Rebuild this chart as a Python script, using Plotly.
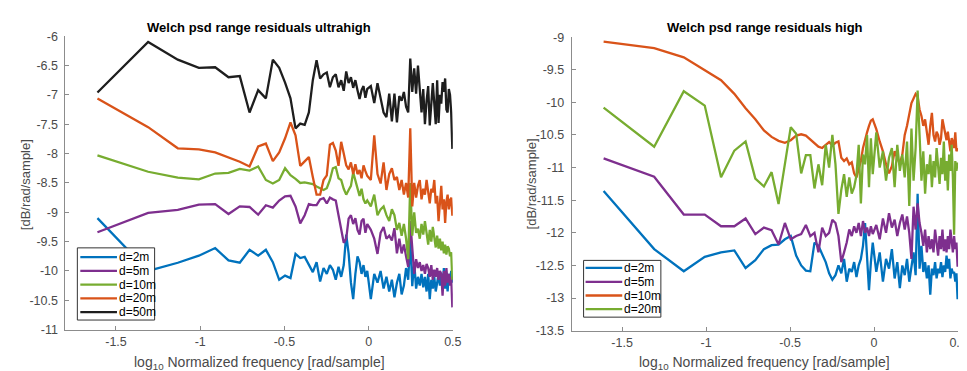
import numpy as np
import plotly.graph_objects as go

# frequency bin indices (Welch PSD, 128 bins over [0, pi])
freq_bins = list(range(1, 41)) + list(range(42, 129, 2))
n_bins = 128

# ---------------- left: ultrahigh ----------------
uh_labels = ["d=2m", "d=5m", "d=10m", "d=20m", "d=50m"]
uh_d2 = [-9.10, -10.00, -9.86, -9.74, -9.61, -9.82, -9.86, -9.64, -9.74, -9.64,
         -9.85, -10.15, -10.08, -10.12, -9.71, -9.78, -9.76, -9.90, -10.02, -9.85,
         -10.18, -9.95, -10.05, -9.90, -9.98, -10.15, -9.93, -10.10, -9.90, -9.38,
         -9.70, -10.20, -10.48, -10.05, -9.75, -9.85, -10.05, -9.90, -10.10, -10.00,
         -10.48, -10.05, -10.20, -10.00, -10.30, -10.10, -10.35, -10.15, -10.45, -10.20,
         -10.05, -10.40, -10.25, -9.95, -10.15, -9.45, -10.26, -9.85, -10.30, -10.10,
         -10.25, -10.05, -10.28, -10.10, -10.35, -10.05, -10.48, -10.15, -10.30, -10.10,
         -10.35, -10.20, -10.05, -10.25, -10.05, -10.32, -9.95, -10.30, -10.10, -10.35,
         -10.05, -10.20, -10.00, -10.20]
uh_d5 = [-9.34, -9.01, -8.96, -8.87, -8.86, -9.03, -8.90, -8.91, -9.04, -8.88,
         -8.92, -8.80, -8.73, -8.72, -8.90, -9.19, -9.05, -8.86, -8.88, -8.88,
         -8.78, -8.76, -8.85, -8.75, -8.78, -8.80, -9.05, -9.27, -9.52, -9.45,
         -9.11, -9.05, -9.20, -9.10, -9.30, -9.38, -9.15, -9.11, -9.35, -9.20,
         -9.30, -9.45, -9.71, -9.35, -9.25, -9.45, -9.40, -9.48, -9.27, -9.70,
         -9.45, -9.70, -9.55, -9.75, -9.93, -9.15, -9.60, -10.05, -9.80, -9.95,
         -9.85, -10.00, -9.90, -10.05, -9.88, -9.95, -10.10, -9.90, -10.15, -9.98,
         -10.10, -9.95, -10.15, -10.00, -10.05, -10.42, -10.00, -10.25, -9.95, -10.20,
         -10.05, -10.25, -10.10, -10.62]
uh_d10 = [-8.03, -8.31, -8.41, -8.44, -8.34, -8.33, -8.26, -8.29, -8.22, -8.45,
          -8.51, -8.45, -8.25, -8.37, -8.43, -8.50, -8.49, -8.51, -8.52, -8.56,
          -8.59, -8.62, -8.59, -8.45, -8.25, -8.23, -8.42, -8.45, -8.60, -8.70,
          -8.62, -8.55, -8.32, -8.45, -8.58, -8.72, -8.60, -8.78, -8.85, -8.80,
          -8.90, -8.70, -9.05, -8.95, -8.90, -9.05, -9.15, -8.95, -9.05, -9.30,
          -9.18, -9.40, -9.20, -9.45, -9.80, -8.50, -9.40, -9.00, -9.35, -9.28,
          -9.45, -9.20, -9.38, -9.15, -9.35, -9.55, -9.30, -9.50, -9.25, -9.45,
          -9.60, -9.40, -9.62, -9.45, -9.65, -9.50, -9.70, -9.55, -9.72, -9.58,
          -9.62, -9.75, -9.68, -10.15]
uh_d20 = [-7.06, -7.55, -7.91, -7.93, -7.98, -8.07, -8.14, -8.22, -7.88, -7.83,
          -8.13, -7.98, -7.74, -7.47, -7.69, -8.21, -8.13, -8.06, -8.40, -8.70,
          -8.70, -8.45, -8.37, -7.85, -7.82, -7.95, -8.21, -7.80, -8.00, -8.20,
          -8.27, -8.15, -8.35, -8.18, -8.35, -8.28, -8.42, -8.20, -8.30, -8.38,
          -8.45, -7.69, -8.35, -8.51, -8.15, -8.62, -8.35, -8.25, -8.45, -8.40,
          -8.62, -8.45, -8.70, -8.50, -8.75, -7.57, -8.90, -8.50, -8.75, -8.55,
          -8.45, -8.78, -8.60, -8.70, -8.45, -8.65, -8.85, -8.60, -8.66, -8.45,
          -8.85, -8.72, -9.15, -8.85, -8.55, -8.95, -8.78, -9.18, -8.82, -8.70,
          -8.95, -8.80, -8.75, -9.06]
uh_d50 = [-6.96, -6.10, -6.40, -6.54, -6.53, -6.70, -6.68, -7.30, -6.92, -7.06,
          -6.40, -6.54, -6.79, -7.06, -7.57, -7.49, -7.51, -7.30, -6.75, -6.41,
          -6.72, -6.65, -6.62, -6.87, -6.70, -6.65, -6.87, -6.75, -6.93, -6.60,
          -6.80, -6.70, -6.88, -6.75, -6.92, -7.07, -6.92, -6.85, -7.05, -6.90,
          -6.85, -7.14, -6.80, -7.05, -7.30, -7.38, -6.98, -7.45, -6.98, -7.47,
          -7.02, -7.10, -6.95, -7.20, -7.30, -6.38, -6.95, -6.55, -6.98, -6.50,
          -6.85, -7.30, -6.90, -7.50, -7.10, -6.85, -7.52, -7.05, -6.80, -7.15,
          -7.50, -6.75, -7.48, -7.00, -7.15, -6.78, -6.95, -6.72, -7.25, -7.30,
          -6.90, -7.00, -7.30, -7.92]

# ---------------- right: high ----------------
hi_labels = ["d=2m", "d=5m", "d=10m", "d=20m"]
hi_d2 = [-11.36, -12.25, -12.59, -12.37, -12.30, -12.27, -12.54, -12.42, -12.25, -12.19,
         -12.18, -12.10, -12.05, -12.35, -12.50, -12.58, -12.59, -12.15, -12.20, -12.32,
         -12.45, -12.62, -12.72, -12.65, -12.50, -12.62, -12.40, -12.75, -12.55, -12.60,
         -12.45, -12.68, -12.50, -12.40, -12.20, -11.85, -12.40, -12.88, -12.45, -12.15,
         -12.60, -12.30, -12.75, -12.40, -12.55, -12.25, -12.70, -12.45, -12.85, -12.50,
         -12.65, -12.40, -12.75, -12.50, -12.30, -12.65, -11.40, -12.55, -12.20, -12.60,
         -12.45, -12.70, -12.50, -12.95, -12.55, -12.65, -12.45, -12.70, -12.55, -12.62,
         -12.45, -12.68, -12.50, -12.60, -12.35, -12.55, -12.40, -12.70, -12.55, -12.62,
         -12.60, -12.75, -12.62, -13.02]
hi_d5 = [-10.86, -11.14, -11.72, -11.72, -11.90, -11.90, -11.78, -12.02, -11.92, -11.96,
         -12.18, -11.85, -12.10, -12.05, -12.02, -11.88, -12.05, -12.00, -12.30, -11.92,
         -12.05, -12.00, -11.80, -11.85, -12.05, -12.45, -12.30, -12.15, -11.95, -12.05,
         -11.90, -12.00, -11.85, -12.05, -11.82, -12.00, -11.92, -12.05, -11.90, -12.02,
         -11.88, -12.10, -11.78, -12.00, -11.70, -11.92, -11.80, -12.05, -11.85, -11.72,
         -11.95, -11.75, -12.00, -12.40, -11.60, -11.95, -11.55, -11.85, -12.00, -12.20,
         -11.95, -12.30, -12.05, -12.25, -12.10, -12.30, -11.95, -12.20, -12.35, -12.05,
         -12.25, -11.95, -12.28, -12.10, -12.30, -12.05, -12.25, -11.95, -12.15, -12.30,
         -12.05, -12.25, -12.15, -12.52]
hi_d10 = [-9.07, -9.17, -9.31, -9.50, -9.66, -9.87, -10.09, -10.26, -10.43, -10.53,
          -10.59, -10.62, -10.58, -10.51, -10.49, -10.51, -10.57, -10.63, -10.68, -10.70,
          -10.66, -10.61, -10.66, -10.62, -10.60, -10.85, -10.90, -10.86, -10.95, -10.92,
          -11.09, -11.15, -11.02, -10.90, -10.70, -10.55, -10.46, -10.36, -10.28, -10.26,
          -10.41, -10.60, -10.75, -10.95, -11.09, -10.98, -10.75, -10.85, -10.95, -10.80,
          -10.50, -10.36, -10.16, -10.01, -9.94, -9.87, -9.91, -10.11, -10.21, -10.36,
          -10.26, -10.50, -10.65, -10.36, -10.16, -10.50, -10.60, -10.45, -10.50, -10.65,
          -10.55, -10.26, -10.36, -10.50, -10.58, -10.45, -10.65, -10.75, -10.55, -10.60,
          -10.70, -10.46, -10.75, -10.70]
hi_d20 = [-10.08, -10.68, -9.83, -10.05, -11.15, -10.74, -10.60, -11.17, -11.29, -11.07,
          -11.56, -10.95, -10.38, -10.48, -11.09, -10.81, -10.81, -11.32, -10.95, -11.27,
          -10.65, -11.00, -10.50, -10.95, -11.71, -11.34, -11.10, -11.45, -11.15, -11.40,
          -11.30, -11.12, -10.65, -11.55, -10.80, -10.95, -10.50, -11.30, -10.55, -11.10,
          -10.46, -11.00, -10.75, -11.20, -10.85, -10.70, -11.30, -10.65, -11.05, -10.80,
          -11.15, -10.60, -11.59, -10.40, -11.20, -10.70, -9.82, -10.50, -11.20, -10.75,
          -11.40, -10.95, -11.10, -10.80, -11.30, -10.90, -11.15, -10.70, -11.05, -11.25,
          -10.85, -11.10, -10.60, -11.20, -10.90, -11.35, -10.80, -11.05, -10.65, -11.15,
          -12.03, -10.90, -11.05, -10.92]

uh_ticks = [-6, -6.5, -7, -7.5, -8, -8.5, -9, -9.5, -10, -10.5, -11]
hi_ticks = [-9, -9.5, -10, -10.5, -11, -11.5, -12, -12.5, -13, -13.5]
x_ticks = [-1.5, -1, -0.5, 0, 0.5]

BLUE, PURPLE, GREEN, ORANGE, BLACK = "#0072BD", "#7E2F8E", "#77AC30", "#D95319", "#1e1e1e"
LW = 2.3

log_f = np.log10(np.array(freq_bins) * np.pi / n_bins)

W, H = 967, 371
def px(x):
    return x / W
def py(y):
    return 1 - y / H

fig = go.Figure()
uh_series = [(uh_d2, BLUE), (uh_d5, PURPLE), (uh_d10, GREEN), (uh_d20, ORANGE), (uh_d50, BLACK)]
for (vals, col), lab in zip(uh_series, uh_labels):
    fig.add_trace(go.Scatter(x=log_f, y=vals, mode="lines", name=lab,
                             line=dict(color=col, width=LW), xaxis="x", yaxis="y",
                             showlegend=False))
hi_series = [(hi_d2, BLUE), (hi_d5, PURPLE), (hi_d10, ORANGE), (hi_d20, GREEN)]
for (vals, col), lab in zip(hi_series, hi_labels):
    fig.add_trace(go.Scatter(x=log_f, y=vals, mode="lines", name=lab,
                             line=dict(color=col, width=LW), xaxis="x2", yaxis="y2",
                             showlegend=False))

AX = "#8c8c8c"
TXT = "#4a4a4a"
FONT = "Liberation Sans, Arial, sans-serif"
axis_common = dict(showline=True, linecolor=AX, linewidth=1, ticks="inside", ticklen=4,
                   tickcolor=AX, showgrid=False, zeroline=False, mirror=False,
                   tickfont=dict(family=FONT, size=12.5, color=TXT))

fig.update_layout(
    width=W, height=H, autosize=False,
    margin=dict(l=0, r=0, t=0, b=0),
    plot_bgcolor="white", paper_bgcolor="white",
    xaxis=dict(domain=[px(58), px(449)], range=[-1.8, 0.5], tickvals=x_ticks,
               ticktext=[str(t) for t in x_ticks], anchor="y", ticklabelstandoff=0, **axis_common),
    yaxis=dict(domain=[py(327), py(22)], range=[-11, -6], tickvals=uh_ticks,
               ticktext=[str(t) for t in uh_ticks], anchor="x", ticklabelstandoff=4, **axis_common),
    xaxis2=dict(domain=[px(569), px(959)], range=[-1.8, 0.5], tickvals=x_ticks,
                ticktext=[str(t) for t in x_ticks], anchor="y2", ticklabelstandoff=0, **axis_common),
    yaxis2=dict(domain=[py(328), py(23)], range=[-13.5, -9], tickvals=hi_ticks,
                ticktext=[str(t) for t in hi_ticks], anchor="x2", ticklabelstandoff=4, **axis_common),
    showlegend=False,
)

ann = []
titles = [("Welch psd range residuals ultrahigh", 253.5), ("Welch psd range residuals high", 764)]
for t, cx in titles:
    ann.append(dict(text="<b>%s</b>" % t, x=px(cx), y=py(13), xref="paper", yref="paper",
                    showarrow=False, xanchor="center", yanchor="middle",
                    font=dict(family=FONT, size=13, color="#000000")))
for cx in (253.5, 764):
    ann.append(dict(text="log<sub>10</sub> Normalized frequency [rad/sample]", x=px(cx), y=py(362),
                    xref="paper", yref="paper", showarrow=False, xanchor="center", yanchor="middle",
                    font=dict(family=FONT, size=14, color=TXT)))
for cx in (18, 528):
    ann.append(dict(text="[dB/rad/sample]", x=px(cx), y=py(176), xref="paper", yref="paper",
                    showarrow=False, textangle=-90, xanchor="center", yanchor="middle",
                    font=dict(family=FONT, size=13, color=TXT)))

shapes = []
def add_legend(box, rows, line_x, text_x, entries):
    x0, x1, y0, y1 = box
    shapes.append(dict(type="rect", xref="paper", yref="paper", x0=px(x0), x1=px(x1),
                       y0=py(y1), y1=py(y0), line=dict(color="#333333", width=1),
                       fillcolor="white", layer="above"))
    for yy, (lab, col) in zip(rows, entries):
        shapes.append(dict(type="line", xref="paper", yref="paper", x0=px(line_x[0]), x1=px(line_x[1]),
                           y0=py(yy), y1=py(yy), line=dict(color=col, width=LW), layer="above"))
        ann.append(dict(text=lab, x=px(text_x), y=py(yy), xref="paper", yref="paper",
                        showarrow=False, xanchor="left", yanchor="middle",
                        font=dict(family=FONT, size=12, color="#000000")))

add_legend((70, 148, 242, 317), [251.7, 266, 280.3, 294.5, 308.7], (73, 110), 110,
           list(zip(uh_labels, [BLUE, PURPLE, GREEN, ORANGE, BLACK])))
add_legend((581, 659, 255, 314), [262.7, 277.3, 291.5, 305.7], (583, 620), 620,
           list(zip(hi_labels, [BLUE, PURPLE, ORANGE, GREEN])))

fig.update_layout(annotations=ann, shapes=shapes)
fig.write_html("out.html")
